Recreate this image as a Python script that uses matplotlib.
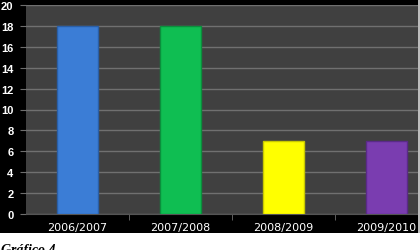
import matplotlib.pyplot as plt
from matplotlib.patches import Rectangle

# data
seasons = ["2006/2007", "2007/2008", "2008/2009", "2009/2010"]
values = [18, 18, 7, 7]
bar_colors = ["#3b7dd6", "#0fbe52", "#ffff00", "#7a3db0"]
edge_colors = ["#2a5fa8", "#0a8f3c", "#c8c800", "#5a2a88"]

W, H = 420, 251
fig = plt.figure(figsize=(W / 100, H / 100), dpi=100)
fig.patch.set_facecolor("white")

# black chart frame (white strip at the bottom)
fig.patches.append(Rectangle((0, (H - 234) / H), 1, 234 / H, transform=fig.transFigure,
                             facecolor="black", edgecolor="none", zorder=-1))
fig.patches.append(Rectangle((418 / W, (H - 234) / H), 2 / W, 234 / H, transform=fig.transFigure,
                             facecolor="#bdbdbd", edgecolor="none", zorder=5))

# plot area is cut off on the right side of the picture
left, right, top, bottom = 26, 26 + 412, 6, 215
ax = fig.add_axes([left / W, (H - bottom) / H, (right - left) / W, (bottom - top) / H])
ax.set_facecolor("#404040")

x = range(len(seasons))
ax.bar(x, values, width=0.39, color=bar_colors, edgecolor=edge_colors, linewidth=1, zorder=3)

ax.set_xlim(-0.5, 3.5)
ax.set_ylim(0, 20)
ax.set_yticks(range(0, 21, 2))
ax.grid(axis="y", color="#707070", linewidth=1, zorder=1)

ax.set_xticks(list(x))
ax.set_xticklabels(seasons)
ax.set_xticks([0.5, 1.5, 2.5], minor=True)
ax.tick_params(axis="x", which="major", length=0, pad=6, colors="white", labelsize=8)
ax.tick_params(axis="x", which="minor", length=4, color="#6e6e6e")
ax.tick_params(axis="y", length=4, color="#6e6e6e", pad=5, labelcolor="white", labelsize=8)
for lbl in ax.get_yticklabels():
    lbl.set_fontweight("bold")
    lbl.set_family("Liberation Sans")

for s in ["top", "right", "left"]:
    ax.spines[s].set_visible(False)
ax.spines["bottom"].set_color("#555555")

# caption below the chart, cut by the bottom edge as in the source
fig.text(1 / W, (H - 254) / H, "Gráfico 4", fontsize=10, fontweight="bold", fontstyle="italic",
         family="Liberation Serif", color="black", va="baseline", ha="left")

fig.savefig("out.png", dpi=100, facecolor=fig.get_facecolor())
